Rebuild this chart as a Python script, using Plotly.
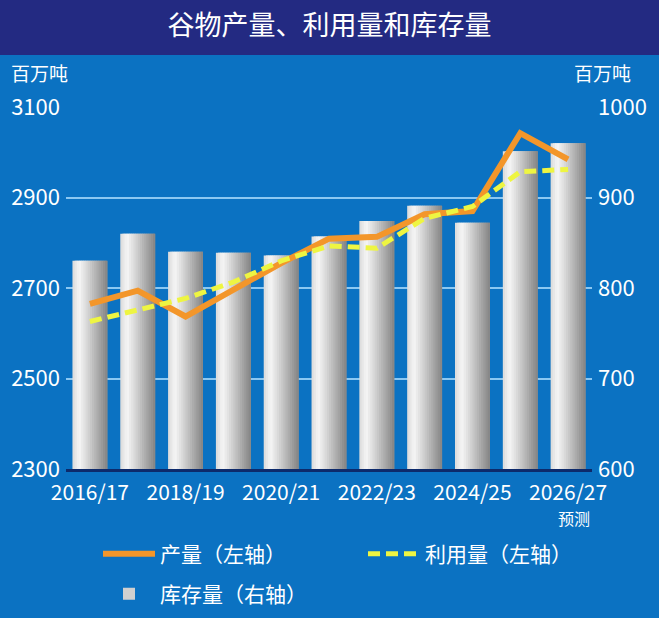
import plotly.graph_objects as go

# ---- data ----
years = ["2016/17", "2017/18", "2018/19", "2019/20", "2020/21", "2021/22",
         "2022/23", "2023/24", "2024/25", "2025/26", "2026/27"]
production = [2665, 2694, 2637, 2695, 2755, 2809, 2813, 2863, 2870, 3042, 2984]
utilization = [2626, 2651, 2677, 2713, 2760, 2793, 2788, 2854, 2880, 2957, 2962]
stocks = [830, 860, 840, 839, 836, 857, 874, 891, 872, 951, 960]
tick_labels = years[::2]
left_ticks = [2300, 2500, 2700, 2900, 3100]
right_ticks = [600, 700, 800, 900, 1000]

FONT = "Noto Sans CJK SC"
BG = "#0b72c2"
BAND = "#232a82"

fig = go.Figure()

# gradient bars built from thin overlapping slices of the same data
BAR_W = 0.73
N = 16
step = BAR_W / N
for i in range(N):
    t = (i + 0.5) / N
    if t < 0.2:
        g = 218 + (246 - 218) * t / 0.2
    else:
        g = 246 - (246 - 132) * (t - 0.2) / 0.8
    g = int(round(g))
    col = f"rgb({g},{g},{g})"
    w = step * 2.2 if i < N - 1 else step
    if i < N - 1:
        w = min(w, BAR_W - i * step)
    fig.add_trace(go.Bar(
        x=years, y=stocks, yaxis="y",
        width=[w] * len(years), offset=[-BAR_W / 2 + i * step] * len(years),
        marker=dict(color=col, line=dict(width=0)),
        name="库存量（右轴）", legend="legend2",
        showlegend=False, hoverinfo="skip"))

# legend entry for stocks
fig.add_trace(go.Bar(
    x=[None], y=[None], yaxis="y", marker=dict(color="#d0d0d0", line=dict(width=0)),
    name="库存量（右轴）", legend="legend2", showlegend=True))

fig.add_trace(go.Scatter(
    x=years, y=production, yaxis="y2", mode="lines",
    line=dict(color="#f3962a", width=6),
    name="产量（左轴）", legend="legend"))
fig.add_trace(go.Scatter(
    x=years, y=utilization, yaxis="y2", mode="lines",
    line=dict(color="#eef542", width=5, dash="12px,6px"),
    name="利用量（左轴）", legend="legend"))

L, R, T, B = 66, 67, 107, 149
W, H = 659, 618
pw, ph = W - L - R, H - T - B

def px_x(p):
    return (p - L) / pw

def px_y(p):
    return (H - B - p) / ph

fig.update_layout(
    width=W, height=H,
    margin=dict(l=L, r=R, t=T, b=B, autoexpand=False),
    paper_bgcolor=BG, plot_bgcolor=BG,
    barmode="overlay",
    font=dict(family=FONT, color="white"),
    title=dict(text="谷物产量、利用量和库存量", x=0.5, xanchor="center",
               xref="container", y=1 - 26 / H, yanchor="middle",
               font=dict(size=27, color="white", family=FONT)),
    xaxis=dict(type="category", categoryorder="array", categoryarray=years,
               tickvals=tick_labels, ticktext=tick_labels,
               showgrid=False, showline=True, linecolor="#0d2a6b", linewidth=3,
               ticks="", tickfont=dict(size=21, color="white", family=FONT),
               ticklabelstandoff=3, range=[-0.5, len(years) - 0.5]),
    yaxis=dict(side="right", range=[600, 1000], tickvals=right_ticks,
               showgrid=True, gridcolor="#8cc8f2", gridwidth=1.5,
               zeroline=False, showline=False, ticks="",
               tickfont=dict(size=22, color="white", family=FONT),
               ticklabelstandoff=5),
    yaxis2=dict(side="left", overlaying="y", range=[2300, 3100], tickvals=left_ticks,
                showgrid=False, zeroline=False, showline=False, ticks="",
                tickfont=dict(size=22, color="white", family=FONT),
                ticklabelstandoff=5),
    legend=dict(orientation="h", x=px_x(98), xanchor="left", y=px_y(554), yanchor="middle",
                font=dict(size=21, color="white", family=FONT),
                entrywidth=198, bgcolor="rgba(0,0,0,0)", traceorder="normal",
                itemwidth=52),
    legend2=dict(orientation="h", x=px_x(98), xanchor="left", y=px_y(594), yanchor="middle",
                 font=dict(size=21, color="white", family=FONT),
                 bgcolor="rgba(0,0,0,0)", itemwidth=52),
    shapes=[dict(type="rect", xref="paper", yref="paper", layer="below",
                 x0=px_x(-5), x1=px_x(W + 5), y0=px_y(55), y1=px_y(-5),
                 fillcolor=BAND, line=dict(width=0))],
    annotations=[
        dict(text="百万吨", xref="paper", yref="paper", x=px_x(9), y=px_y(73),
             xanchor="left", yanchor="middle", showarrow=False,
             font=dict(size=19, color="white", family=FONT)),
        dict(text="百万吨", xref="paper", yref="paper", x=px_x(633), y=px_y(73),
             xanchor="right", yanchor="middle", showarrow=False,
             font=dict(size=19, color="white", family=FONT)),
        dict(text="预测", xref="x", yref="paper", x=years[-1], xshift=6, y=px_y(518),
             xanchor="center", yanchor="middle", showarrow=False,
             font=dict(size=16, color="white", family=FONT)),
    ],
)

fig.write_html("out.html", config={"displayModeBar": False},
               post_script="document.body.style.margin='0';document.body.style.overflow='hidden';")
